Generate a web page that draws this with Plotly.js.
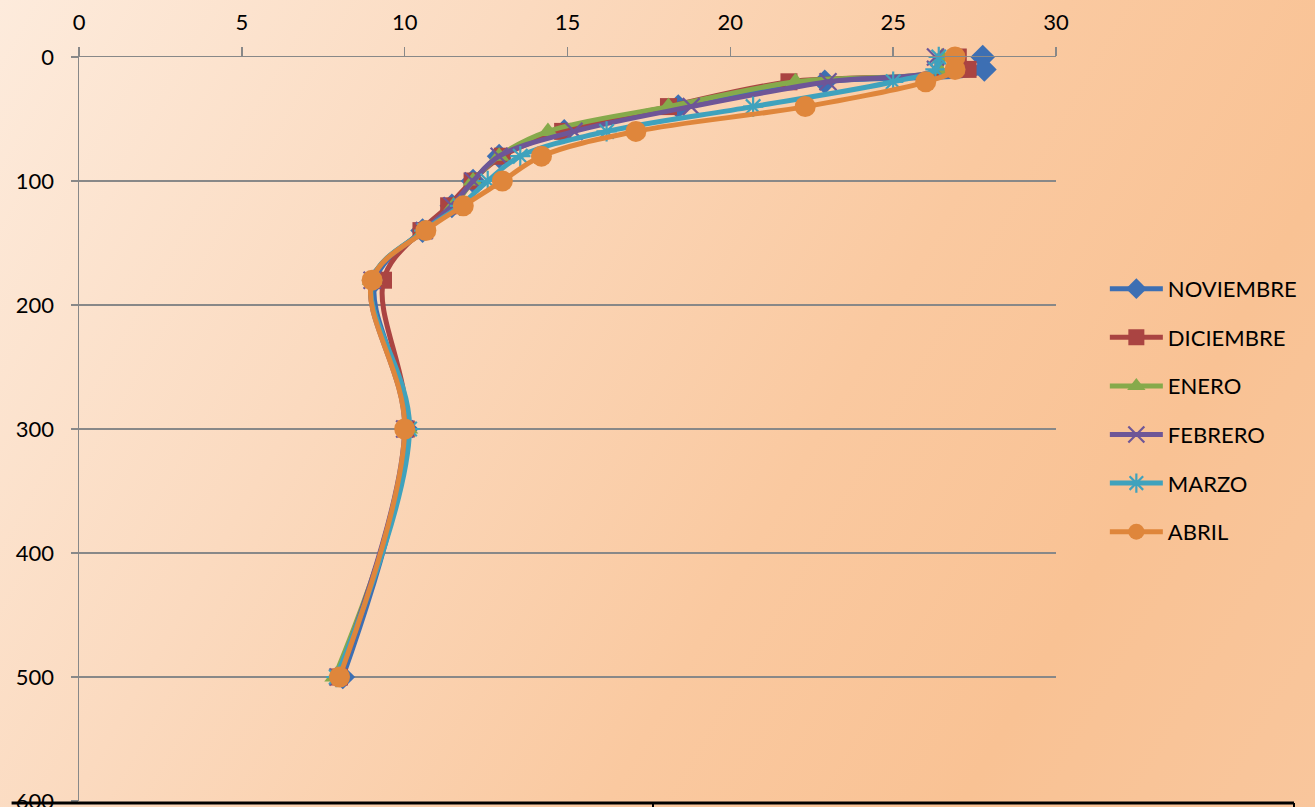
<!DOCTYPE html>
<html>
<head>
<meta charset="utf-8">
<script src="https://cdn.plot.ly/plotly-3.0.1.min.js"></script>
<style>
html,body{margin:0;padding:0;width:1315px;height:807px;overflow:hidden;}
body{background:linear-gradient(120deg,#FDEBDC 0%,#FBDABF 30%,#FAC9A0 60%,#F9C294 80%,#F9C69C 100%);}
#chart{width:1315px;height:807px;}
</style>
</head>
<body>
<div id="chart"></div>
<script>
const depths = [0, 10, 20, 40, 60, 80, 100, 120, 140, 180, 300, 500];
const noviembre = [27.75, 27.8, 22.9, 18.4, 14.9, 12.9, 12.1, 11.45, 10.55, 9.1, 10.05, 8.1];
const diciembre = [27.0, 27.3, 21.8, 18.1, 14.85, 13.0, 12.07, 11.35, 10.5, 9.35, 10.05, 8.0];
const enero = [26.5, 26.4, 22.0, 18.1, 14.4, 12.9, 12.1, 11.5, 10.6, 9.0, 10.1, 7.85];
const febrero = [26.3, 26.3, 23.0, 18.8, 15.2, 12.9, 12.1, 11.45, 10.6, 9.0, 10.0, 7.95];
const marzo = [26.4, 26.3, 25.0, 20.7, 16.2, 13.55, 12.55, 11.7, 10.6, 9.0, 10.15, 7.9];
const abril = [26.9, 26.9, 26.0, 22.3, 17.1, 14.2, 13.0, 11.8, 10.65, 9.0, 10.0, 8.0];

const seriesNames = ['NOVIEMBRE', 'DICIEMBRE', 'ENERO', 'FEBRERO', 'MARZO', 'ABRIL'];
const seriesData = [noviembre, diciembre, enero, febrero, marzo, abril];
const colors = ['#3D6FB3', '#AA4442', '#86AA4B', '#6E5697', '#3FA2BD', '#DF863B'];
const symbols = ['diamond', 'square', 'triangle-up', 'x-thin-open', 'asterisk-open', 'circle'];
const sizes = [19, 17, 18, 17, 17, 21];

const traces = seriesNames.map((name, i) => ({
  type: 'scatter',
  mode: 'lines+markers',
  name: name,
  x: seriesData[i],
  y: depths,
  legendgroup: 'g' + i,
  line: {color: colors[i], width: 5, shape: 'spline', smoothing: 1},
  marker: {symbol: symbols[i], size: sizes[i], color: colors[i],
           line: {color: colors[i], width: (i === 3 || i === 4) ? 2.2 : 0}},
  cliponaxis: false
}));

const FONT = 'Lato, "Open Sans", sans-serif';
const layout = {
  width: 1315, height: 807,
  margin: {l: 79, r: 259, t: 57, b: 6},
  paper_bgcolor: 'rgba(0,0,0,0)',
  plot_bgcolor: 'rgba(0,0,0,0)',
  font: {family: FONT, size: 22, color: '#000'},
  showlegend: true,
  legend: {x: 1.05, xanchor: 'left', y: 0.525, yanchor: 'middle', itemwidth: 53,
           bgcolor: 'rgba(0,0,0,0)', tracegroupgap: 17, traceorder: 'grouped',
           font: {size: 22, family: FONT}},
  xaxis: {
    side: 'top', range: [0, 30], tickvals: [0, 5, 10, 15, 20, 25, 30],
    showgrid: false, zeroline: false, showline: true, linecolor: '#888', linewidth: 1.5,
    ticks: 'outside', ticklen: 9, tickcolor: '#888', tickwidth: 1.5, ticklabelstandoff: 8,
    tickfont: {size: 22}, fixedrange: true
  },
  yaxis: {
    range: [600, 0], tickvals: [0, 100, 200, 300, 400, 500, 600],
    showgrid: true, gridcolor: '#888', gridwidth: 1.5, zeroline: false,
    showline: true, linecolor: '#888', linewidth: 1.5,
    ticks: 'outside', ticklen: 7, tickcolor: '#888', tickwidth: 1.5, ticklabelstandoff: 12,
    ticklabeloverflow: 'allow',
    tickfont: {size: 22}, fixedrange: true
  },
  shapes: [
    {type: 'line', xref: 'paper', yref: 'paper', x0: -0.069, x1: 1.2436, y0: -0.0027, y1: -0.0027,
     line: {color: '#000', width: 3}},
    {type: 'line', xref: 'paper', yref: 'paper', x0: 0.5875, x1: 0.5875, y0: -0.0027, y1: -0.02,
     line: {color: '#000', width: 2}},
    {type: 'line', xref: 'paper', yref: 'paper', x0: 1.2436, x1: 1.2436, y0: -0.0027, y1: -0.02,
     line: {color: '#000', width: 2}}
  ]
};

Plotly.newPlot('chart', traces, layout, {displayModeBar: false, staticPlot: true}).then(gd => {
  gd.querySelectorAll('.legend .traces').forEach(t => {
    t.querySelectorAll('.legendlines path').forEach(p => p.setAttribute('d', 'M5,0h53'));
    t.querySelectorAll('.legendpoints path').forEach(p => p.setAttribute('transform', 'translate(31.5,0)'));
  });
});
</script>
</body>
</html>
